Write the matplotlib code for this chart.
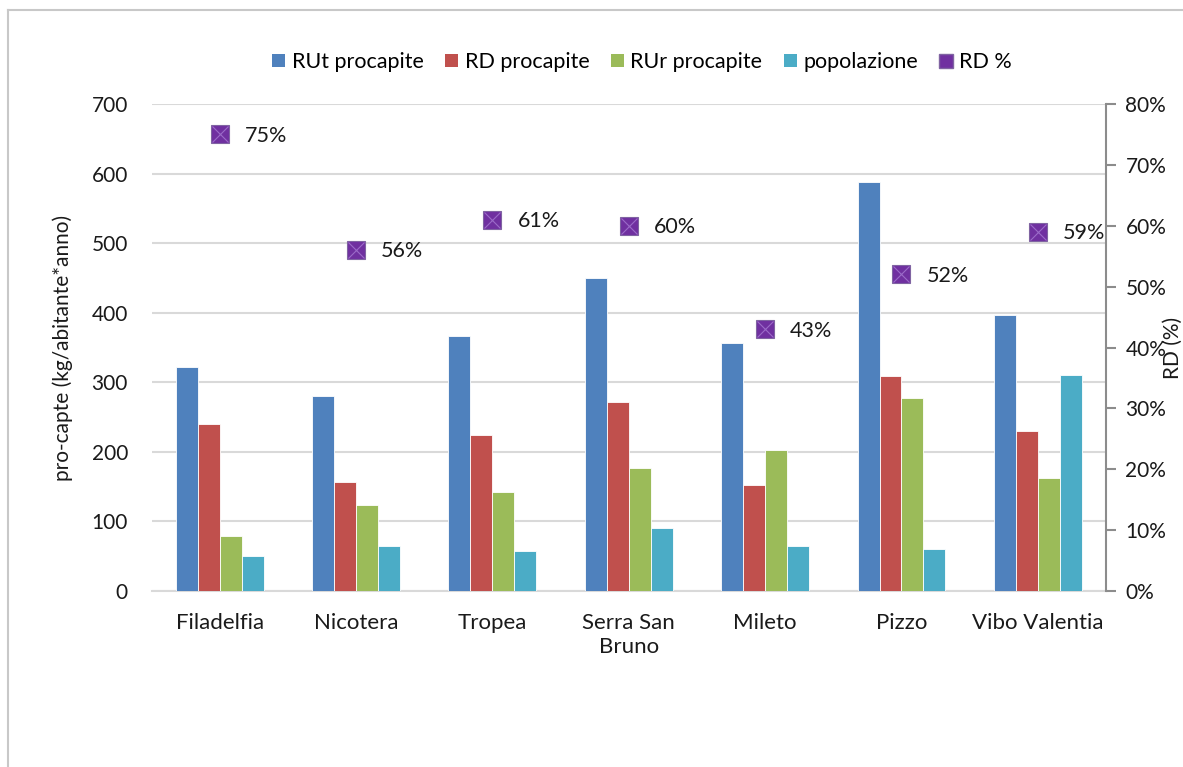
import matplotlib
matplotlib.use("Agg")
import matplotlib.pyplot as plt
import numpy as np
from matplotlib.patches import Patch
from matplotlib.lines import Line2D

plt.rcParams['font.family'] = ['Lato', 'DejaVu Sans']

categories = ["Filadelfia", "Nicotera", "Tropea", "Serra San\nBruno", "Mileto", "Pizzo", "Vibo Valentia"]
rut_procapite = [322, 281, 366, 450, 356, 588, 396]
rd_procapite = [240, 157, 224, 271, 153, 309, 230]
rur_procapite = [79, 124, 142, 177, 203, 278, 162]
popolazione = [50, 64, 58, 90, 64, 60, 311]
rd_percent = [75, 56, 61, 60, 43, 52, 59]

series_names = ["RUt procapite", "RD procapite", "RUr procapite", "popolazione"]
series_vals = [rut_procapite, rd_procapite, rur_procapite, popolazione]
colors = ["#4F81BD", "#C0504D", "#9BBB59", "#4BACC6"]
purple = "#7030A0"
purple_x = "#9B6BC8"
txt = '#1a1a1a'

W, H = 1183, 767
fig = plt.figure(figsize=(W / 100, H / 100), dpi=100)
L, R, T, B = 151.5, 1106, 104, 591
ax = fig.add_axes([L / W, 1 - B / H, (R - L) / W, (B - T) / H])

x = np.arange(len(categories))
bw = 0.161
for i, (name, vals, c) in enumerate(zip(series_names, series_vals, colors)):
    ax.bar(x + (i - 1.5) * bw, vals, width=bw, color=c, edgecolor="white", linewidth=0.6, zorder=3, label=name)

ax.set_xlim(-0.5, len(categories) - 0.5)
ax.set_ylim(0, 700)
ax.set_yticks(np.arange(0, 701, 100))
ax.grid(axis='y', color='#d9d9d9', linewidth=1.5, zorder=0)
ax.set_axisbelow(True)
for s in ['left', 'right', 'top']:
    ax.spines[s].set_visible(False)
ax.spines['bottom'].set_color('#d9d9d9')
ax.spines['bottom'].set_linewidth(1.5)
ax.tick_params(axis='y', length=0, pad=17, labelsize=15, colors=txt)
ax.tick_params(axis='x', length=0, pad=16, labelsize=16, colors=txt)
ax.set_xticks(x)
ax.set_xticklabels(categories, linespacing=1.25)
ax.set_ylabel("pro-capte (kg/abitante*anno)", fontsize=15, color=txt)
ax.yaxis.set_label_coords(-(L - 73) / (R - L), 0.5)

ax2 = ax.twinx()
ax2.set_ylim(0, 0.8)
ax2.set_yticks(np.arange(0, 0.81, 0.1))
ax2.set_yticklabels([f"{int(round(v * 100))}%" for v in np.arange(0, 0.81, 0.1)])
for s in ['left', 'top', 'bottom']:
    ax2.spines[s].set_visible(False)
ax2.spines['right'].set_color('#8c8c8c')
ax2.spines['right'].set_linewidth(1.5)
ax2.tick_params(axis='y', length=7, width=1.5, color='#8c8c8c', pad=7, labelsize=15, labelcolor=txt)
ax2.set_ylabel("RD (%)", fontsize=15, color=txt)
ax2.yaxis.label.set_verticalalignment('center')
ax2.yaxis.label.set_horizontalalignment('center')
ax2.yaxis.set_label_coords((1173 - L) / (R - L), 0.5)

pv = [v / 100 for v in rd_percent]
ax2.plot(x, pv, linestyle='none', marker='s', markersize=13, markerfacecolor=purple,
         markeredgecolor='#8064A2', markeredgewidth=0.8, zorder=5)
ax2.plot(x, pv, linestyle='none', marker='x', markersize=12, markeredgecolor=purple_x,
         markeredgewidth=0.8, zorder=6)
for xi, v in zip(x, rd_percent):
    ax2.annotate(f"{v}%", (xi, v / 100), xytext=(18, -1), textcoords='offset points',
                 ha='left', va='center', fontsize=15.5, color=txt, zorder=7)

handles = [Patch(facecolor=c, edgecolor='none') for c in colors]
handles.append(Line2D([], [], linestyle='none', marker='s', markersize=10, markerfacecolor=purple,
                      markeredgecolor='#8064A2'))
labels = series_names + ["RD %"]
fig.legend(handles, labels, loc='center', bbox_to_anchor=(642 / W, 1 - 62 / H), ncol=5, frameon=False,
           fontsize=15.5, handlelength=0.6, handleheight=0.6, handletextpad=0.3, columnspacing=1.0)

# outer frame
fig.add_artist(Line2D([8 / W, 8 / W], [0, 1 - 10 / H], transform=fig.transFigure, color='#c8c8c8', lw=1.5))
fig.add_artist(Line2D([8 / W, 1], [1 - 10 / H, 1 - 10 / H], transform=fig.transFigure, color='#c8c8c8', lw=1.5))

fig.savefig("out.png", dpi=100)
